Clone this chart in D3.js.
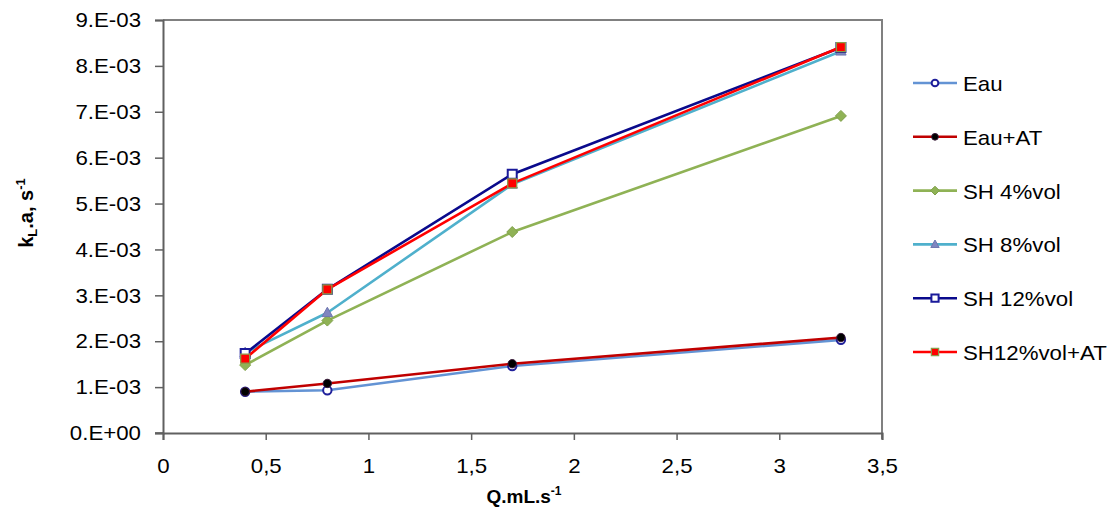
<!DOCTYPE html>
<html>
<head>
<meta charset="utf-8">
<script src="https://cdn.jsdelivr.net/npm/d3@7"></script>
<style>
  html, body { margin: 0; padding: 0; background: #fff; }
  svg { display: block; font-family: Arial, "Liberation Sans", sans-serif; }
</style>
</head>
<body>
<svg id="chart" width="1115" height="512"></svg>
<script>
// Volumetric mass-transfer coefficient vs. flow rate
const flowRates = [0.4, 0.8, 1.7, 3.3];
const seriesNames = ["Eau", "Eau+AT", "SH 4%vol", "SH 8%vol", "SH 12%vol", "SH12%vol+AT"];
const eau        = [0.90e-3, 0.93e-3, 1.46e-3, 2.03e-3];
const eauAT      = [0.90e-3, 1.08e-3, 1.51e-3, 2.08e-3];
const sh4        = [1.48e-3, 2.45e-3, 4.38e-3, 6.91e-3];
const sh8        = [1.75e-3, 2.62e-3, 5.42e-3, 8.32e-3];
const sh12       = [1.73e-3, 3.13e-3, 5.64e-3, 8.40e-3];
const sh12AT     = [1.62e-3, 3.13e-3, 5.44e-3, 8.41e-3];
const xTicks = [0, 0.5, 1, 1.5, 2, 2.5, 3, 3.5];
const yTicks = [0, 1e-3, 2e-3, 3e-3, 4e-3, 5e-3, 6e-3, 7e-3, 8e-3, 9e-3];

const seriesValues = [eau, eauAT, sh4, sh8, sh12, sh12AT];
const styles = [
  { line: "#6393D4", marker: "circle",   fill: "#fff",    stroke: "#1F1F9A", size: 4.2, sw: 2 },
  { line: "#C00000", marker: "circle",   fill: "#000",    stroke: "#3a1a3a", size: 4.2, sw: 1 },
  { line: "#8FB255", marker: "diamond",  fill: "#8FB255", stroke: "#7FA04A", size: 5.5, sw: 1 },
  { line: "#4FB0CC", marker: "triangle", fill: "#7F86C0", stroke: "#6F76B0", size: 5.5, sw: 1 },
  { line: "#0A0A8C", marker: "square",   fill: "#fff",    stroke: "#1A1A9A", size: 4.5, sw: 2 },
  { line: "#FF0000", marker: "square",   fill: "#FF0000", stroke: "#8B9A4A", size: 4.5, sw: 1.3 }
];

const svg = d3.select("#chart");
const m = { left: 163, right: 882, top: 20, bottom: 433 };
const x = d3.scaleLinear().domain([0, 3.5]).range([m.left, m.right]);
const y = d3.scaleLinear().domain([0, 9e-3]).range([m.bottom, m.top]);

const stretch = 1.06;
function widen(sel) {
  sel.each(function () {
    const len = this.getComputedTextLength();
    d3.select(this).attr("textLength", len * stretch).attr("lengthAdjust", "spacingAndGlyphs");
  });
}

// plot frame (top and right edges)
svg.append("path")
  .attr("d", `M${m.left},${m.top}H${m.right}V${m.bottom + 6}`)
  .attr("fill", "none").attr("stroke", "#808080").attr("stroke-width", 2);

// axes
const fmtY = v => {
  const exp = v === 0 ? 0 : Math.floor(Math.log10(v) + 1e-9);
  const mant = v === 0 ? 0 : Math.round(v / Math.pow(10, exp));
  const s = exp < 0 ? "-" : "+";
  return mant + ".E" + s + String(Math.abs(exp)).padStart(2, "0");
};
const fmtX = v => String(v).replace(".", ",");

const yAxis = svg.append("g")
  .attr("transform", `translate(${m.left},0)`)
  .call(d3.axisLeft(y).tickValues(yTicks).tickFormat(fmtY).tickSize(8).tickPadding(14));
const xAxis = svg.append("g")
  .attr("transform", `translate(0,${m.bottom})`)
  .call(d3.axisBottom(x).tickValues(xTicks).tickFormat(fmtX).tickSize(7).tickPadding(18));

[yAxis, xAxis].forEach(g => {
  g.select(".domain").attr("stroke", "#606060").attr("stroke-width", 2);
  g.selectAll(".tick line").attr("stroke", "#606060").attr("stroke-width", 1.5);
  g.selectAll(".tick text").attr("fill", "#000").attr("font-size", 21)
    .attr("font-family", "Arial, 'Liberation Sans', sans-serif").call(widen);
});
// bottom axis extends a little left of the y axis
svg.append("line").attr("x1", m.left - 8).attr("x2", m.left)
  .attr("y1", m.bottom).attr("y2", m.bottom).attr("stroke", "#606060").attr("stroke-width", 1.5);

// series lines
const line = d3.line().x((d, i) => x(flowRates[i])).y(d => y(d));
const symbolFor = (s) => {
  const r = s.size;
  if (s.marker === "circle") return d3.symbol(d3.symbolCircle, Math.PI * r * r)();
  if (s.marker === "square") return d3.symbol(d3.symbolSquare, (2 * r) * (2 * r))();
  if (s.marker === "diamond") return `M0,${-r}L${r},0L0,${r}L${-r},0Z`;
  if (s.marker === "triangle") return `M0,${-r}L${r * 0.95},${r * 0.7}L${-r * 0.95},${r * 0.7}Z`;
};

seriesValues.forEach((vals, k) => {
  const s = styles[k];
  const g = svg.append("g");
  g.append("path").datum(vals).attr("d", line)
    .attr("fill", "none").attr("stroke", s.line).attr("stroke-width", 2.6)
    .attr("stroke-linejoin", "round");
  g.selectAll("path.mk").data(vals).join("path").attr("class", "mk")
    .attr("transform", (d, i) => `translate(${x(flowRates[i])},${y(d)})`)
    .attr("d", symbolFor(s))
    .attr("fill", s.fill).attr("stroke", s.stroke).attr("stroke-width", s.sw);
});

// legend
const legend = svg.append("g");
seriesNames.forEach((name, k) => {
  const s = styles[k];
  const cy = 83 + k * 53.8;
  const g = legend.append("g");
  g.append("line").attr("x1", 913).attr("x2", 957).attr("y1", cy).attr("y2", cy)
    .attr("stroke", s.line).attr("stroke-width", 2.6);
  const small = Object.assign({}, s, { size: s.size * 0.8 });
  g.append("path").attr("transform", `translate(935,${cy})`).attr("d", symbolFor(small))
    .attr("fill", s.fill).attr("stroke", s.stroke).attr("stroke-width", s.sw);
  g.append("text").attr("x", 963).attr("y", cy + 8).attr("font-size", 21)
    .attr("fill", "#000").text(name).call(widen);
});

// axis titles
const yt = svg.append("text")
  .attr("transform", "translate(33,213) rotate(-90)")
  .attr("text-anchor", "middle").attr("font-size", 20).attr("font-weight", "bold");
yt.append("tspan").text("k");
yt.append("tspan").attr("font-size", 13).attr("dy", 4).text("L");
yt.append("tspan").attr("dy", -4).text(".a, s");
yt.append("tspan").attr("font-size", 13).attr("dy", -8).text("-1");

const xt = svg.append("text")
  .attr("x", 524).attr("y", 503)
  .attr("text-anchor", "middle").attr("font-size", 19).attr("font-weight", "bold");
xt.append("tspan").text("Q.mL.s");
xt.append("tspan").attr("font-size", 12).attr("dy", -8).text("-1");
</script>
</body>
</html>
